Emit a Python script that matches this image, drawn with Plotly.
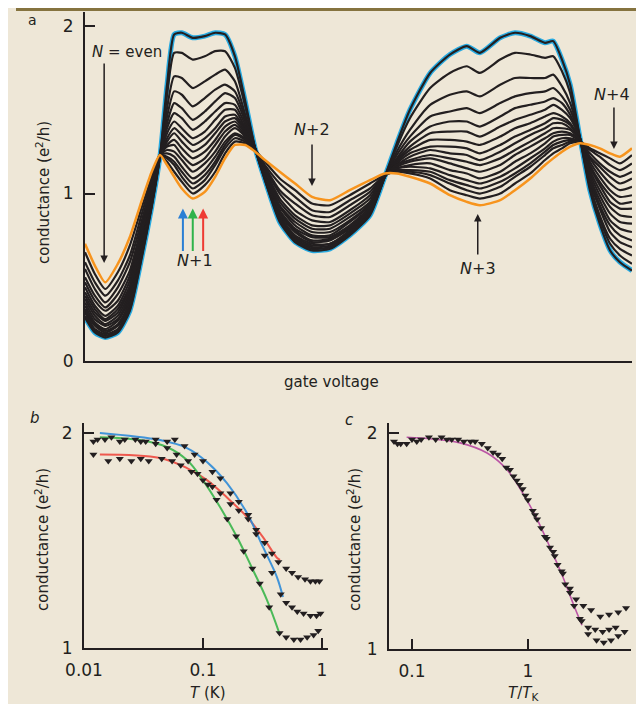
import plotly.graph_objects as go

W, H = 644, 704
OFF = 8  # the page places the figure 8 px right and down
BG = "#eee7d7"
INK = "#231f20"
BLUE = "#27aae1"
ORANGE = "#f7941d"
FONT = "DejaVu Sans"

# ---------------- panel a : conductance vs gate voltage ----------------
gate = [0.0, 1.8, 3.7, 6.0, 8.2, 10.4, 12.2, 13.7, 15.0, 16.3, 17.7, 19.7, 21.9, 23.8,
        25.6, 27.4, 29.3, 31.1, 32.9, 35.6, 38.4, 41.5, 44.8, 48.4, 52.1, 54.8, 57.0,
        59.4, 63.1, 66.7, 69.8, 72.2, 75.9, 78.6, 81.4, 84.1, 85.6, 87.2, 88.7, 90.5,
        92.3, 94.1, 96.0, 97.8, 100.0]

blue_lowT = [0.26, 0.17, 0.14, 0.17, 0.30, 0.62, 0.92, 1.22, 1.65, 1.95, 1.96, 1.93, 1.94,
             1.96, 1.95, 1.82, 1.55, 1.27, 1.08, 0.83, 0.71, 0.66, 0.67, 0.75, 0.87, 1.10,
             1.30, 1.50, 1.72, 1.83, 1.88, 1.84, 1.93, 1.96, 1.94, 1.90, 1.91, 1.80, 1.65,
             1.33, 1.02, 0.82, 0.66, 0.59, 0.54]

orange_highT = [0.70, 0.57, 0.47, 0.58, 0.74, 0.96, 1.13, 1.23, 1.17, 1.10, 1.03, 0.97, 1.01,
                1.10, 1.21, 1.29, 1.29, 1.25, 1.20, 1.13, 1.06, 0.98, 0.96, 1.02, 1.08, 1.12,
                1.12, 1.10, 1.06, 0.99, 0.95, 0.93, 0.96, 1.02, 1.09, 1.17, 1.21, 1.25, 1.28,
                1.30, 1.29, 1.27, 1.24, 1.22, 1.27]

# intermediate temperatures: one row per gate position, one column per curve
black_by_gate = [
    [0.27, 0.29, 0.30, 0.31, 0.33, 0.35, 0.37, 0.39, 0.41, 0.44, 0.47, 0.50, 0.55, 0.59, 0.65],
    [0.18, 0.19, 0.21, 0.22, 0.23, 0.25, 0.27, 0.29, 0.31, 0.33, 0.36, 0.39, 0.43, 0.47, 0.52],
    [0.15, 0.16, 0.17, 0.18, 0.19, 0.21, 0.22, 0.24, 0.25, 0.27, 0.30, 0.32, 0.35, 0.39, 0.43],
    [0.18, 0.19, 0.21, 0.22, 0.24, 0.25, 0.27, 0.29, 0.31, 0.33, 0.36, 0.40, 0.44, 0.48, 0.53],
    [0.31, 0.33, 0.34, 0.35, 0.37, 0.39, 0.41, 0.43, 0.45, 0.48, 0.51, 0.54, 0.59, 0.63, 0.69],
    [0.63, 0.64, 0.65, 0.66, 0.67, 0.69, 0.70, 0.72, 0.74, 0.76, 0.78, 0.81, 0.84, 0.88, 0.92],
    [0.93, 0.93, 0.94, 0.95, 0.95, 0.96, 0.97, 0.98, 0.99, 1.00, 1.02, 1.04, 1.06, 1.08, 1.10],
    [1.22, 1.22, 1.22, 1.22, 1.22, 1.22, 1.22, 1.22, 1.23, 1.23, 1.23, 1.23, 1.23, 1.23, 1.23],
    [1.59, 1.51, 1.46, 1.42, 1.39, 1.36, 1.33, 1.31, 1.29, 1.28, 1.26, 1.24, 1.22, 1.21, 1.19],
    [1.84, 1.70, 1.61, 1.54, 1.48, 1.43, 1.39, 1.36, 1.32, 1.29, 1.25, 1.22, 1.19, 1.17, 1.13],
    [1.84, 1.69, 1.59, 1.51, 1.45, 1.39, 1.35, 1.31, 1.27, 1.23, 1.20, 1.16, 1.13, 1.10, 1.07],
    [1.80, 1.63, 1.52, 1.44, 1.38, 1.33, 1.29, 1.25, 1.21, 1.17, 1.13, 1.09, 1.06, 1.03, 1.00],
    [1.82, 1.67, 1.57, 1.49, 1.43, 1.37, 1.33, 1.29, 1.25, 1.21, 1.18, 1.14, 1.11, 1.08, 1.05],
    [1.85, 1.71, 1.62, 1.55, 1.49, 1.44, 1.39, 1.36, 1.32, 1.29, 1.25, 1.22, 1.19, 1.17, 1.13],
    [1.85, 1.74, 1.65, 1.60, 1.54, 1.50, 1.46, 1.43, 1.40, 1.37, 1.34, 1.31, 1.29, 1.27, 1.24],
    [1.75, 1.67, 1.61, 1.57, 1.53, 1.50, 1.47, 1.45, 1.43, 1.41, 1.39, 1.36, 1.35, 1.33, 1.31],
    [1.52, 1.47, 1.45, 1.43, 1.41, 1.39, 1.38, 1.37, 1.36, 1.35, 1.34, 1.33, 1.32, 1.31, 1.30],
    [1.27, 1.27, 1.27, 1.27, 1.27, 1.27, 1.27, 1.26, 1.26, 1.26, 1.26, 1.26, 1.26, 1.26, 1.26],
    [1.08, 1.09, 1.09, 1.09, 1.10, 1.10, 1.11, 1.11, 1.12, 1.13, 1.14, 1.15, 1.16, 1.17, 1.19],
    [0.84, 0.85, 0.86, 0.87, 0.88, 0.89, 0.90, 0.92, 0.93, 0.95, 0.97, 1.00, 1.02, 1.06, 1.09],
    [0.72, 0.73, 0.74, 0.75, 0.77, 0.78, 0.79, 0.81, 0.83, 0.85, 0.87, 0.90, 0.94, 0.98, 1.02],
    [0.67, 0.68, 0.69, 0.70, 0.71, 0.72, 0.74, 0.75, 0.77, 0.79, 0.81, 0.84, 0.87, 0.90, 0.94],
    [0.68, 0.69, 0.70, 0.70, 0.72, 0.73, 0.74, 0.75, 0.77, 0.79, 0.81, 0.83, 0.86, 0.89, 0.93],
    [0.76, 0.77, 0.77, 0.78, 0.79, 0.80, 0.81, 0.83, 0.84, 0.86, 0.88, 0.90, 0.93, 0.96, 0.99],
    [0.88, 0.88, 0.89, 0.90, 0.90, 0.91, 0.92, 0.93, 0.94, 0.95, 0.97, 0.99, 1.01, 1.03, 1.06],
    [1.10, 1.10, 1.10, 1.10, 1.10, 1.10, 1.10, 1.11, 1.11, 1.11, 1.11, 1.11, 1.11, 1.11, 1.11],
    [1.28, 1.25, 1.23, 1.21, 1.20, 1.19, 1.18, 1.17, 1.17, 1.16, 1.15, 1.15, 1.14, 1.13, 1.13],
    [1.45, 1.38, 1.34, 1.31, 1.28, 1.26, 1.24, 1.22, 1.20, 1.19, 1.17, 1.16, 1.14, 1.13, 1.12],
    [1.63, 1.53, 1.46, 1.40, 1.36, 1.32, 1.28, 1.26, 1.23, 1.21, 1.18, 1.15, 1.13, 1.11, 1.09],
    [1.72, 1.59, 1.49, 1.43, 1.37, 1.32, 1.28, 1.24, 1.21, 1.18, 1.14, 1.11, 1.08, 1.06, 1.02],
    [1.76, 1.61, 1.51, 1.43, 1.37, 1.31, 1.27, 1.23, 1.19, 1.15, 1.12, 1.08, 1.05, 1.02, 0.99],
    [1.72, 1.58, 1.48, 1.40, 1.34, 1.29, 1.24, 1.20, 1.17, 1.13, 1.09, 1.06, 1.03, 1.00, 0.97],
    [1.80, 1.65, 1.54, 1.46, 1.40, 1.34, 1.29, 1.25, 1.21, 1.17, 1.13, 1.10, 1.07, 1.04, 1.00],
    [1.84, 1.69, 1.58, 1.51, 1.44, 1.39, 1.34, 1.30, 1.26, 1.23, 1.19, 1.15, 1.12, 1.10, 1.06],
    [1.83, 1.69, 1.60, 1.53, 1.47, 1.42, 1.38, 1.35, 1.31, 1.28, 1.24, 1.21, 1.18, 1.16, 1.12],
    [1.81, 1.69, 1.61, 1.55, 1.50, 1.46, 1.42, 1.39, 1.36, 1.33, 1.30, 1.27, 1.25, 1.23, 1.20],
    [1.82, 1.71, 1.63, 1.57, 1.53, 1.48, 1.45, 1.42, 1.39, 1.36, 1.34, 1.31, 1.29, 1.27, 1.24],
    [1.73, 1.64, 1.58, 1.54, 1.50, 1.46, 1.44, 1.42, 1.39, 1.37, 1.35, 1.33, 1.31, 1.29, 1.27],
    [1.60, 1.54, 1.50, 1.47, 1.45, 1.42, 1.41, 1.39, 1.38, 1.36, 1.35, 1.33, 1.32, 1.31, 1.30],
    [1.33, 1.33, 1.33, 1.33, 1.33, 1.32, 1.32, 1.32, 1.32, 1.32, 1.31, 1.31, 1.31, 1.31, 1.31],
    [1.04, 1.05, 1.07, 1.09, 1.10, 1.12, 1.14, 1.16, 1.17, 1.19, 1.21, 1.22, 1.24, 1.26, 1.27],
    [0.85, 0.87, 0.91, 0.93, 0.96, 0.99, 1.02, 1.05, 1.07, 1.10, 1.13, 1.16, 1.18, 1.22, 1.24],
    [0.70, 0.73, 0.77, 0.81, 0.84, 0.88, 0.92, 0.95, 0.99, 1.02, 1.06, 1.10, 1.13, 1.17, 1.21],
    [0.63, 0.67, 0.71, 0.75, 0.79, 0.83, 0.87, 0.91, 0.94, 0.98, 1.02, 1.06, 1.10, 1.14, 1.18],
    [0.58, 0.63, 0.68, 0.72, 0.77, 0.82, 0.86, 0.91, 0.95, 0.99, 1.04, 1.09, 1.13, 1.18, 1.23],
]
black_curves = [list(col) for col in zip(*black_by_gate)]

# ---------------- panel b : conductance vs T ----------------
red_T = [0.012, 0.016, 0.02, 0.025, 0.03, 0.035, 0.045, 0.055, 0.065, 0.08, 0.1, 0.12, 0.14,
         0.17, 0.2, 0.24, 0.28, 0.33, 0.38, 0.43, 0.5, 0.56, 0.63, 0.72, 0.8, 0.88, 0.95]
red_G = [1.90, 1.87, 1.88, 1.87, 1.88, 1.87, 1.88, 1.87, 1.85, 1.82, 1.78, 1.75, 1.72,
         1.67, 1.64, 1.60, 1.55, 1.49, 1.44, 1.40, 1.37, 1.35, 1.33, 1.32, 1.31, 1.31, 1.31]
blu_T = [0.013, 0.017, 0.022, 0.027, 0.033, 0.04, 0.05, 0.058, 0.07, 0.085, 0.1, 0.12, 0.14,
         0.17, 0.2, 0.24, 0.28, 0.33, 0.38, 0.45, 0.5, 0.56, 0.62, 0.7, 0.8, 0.9, 0.97]
blu_G = [1.97, 1.98, 1.97, 1.97, 1.96, 1.97, 1.96, 1.97, 1.94, 1.90, 1.87, 1.82, 1.79,
         1.72, 1.68, 1.62, 1.53, 1.43, 1.35, 1.25, 1.21, 1.19, 1.17, 1.16, 1.15, 1.15, 1.16]
grn_T = [0.012, 0.015, 0.02, 0.03, 0.04, 0.05, 0.06, 0.075, 0.09, 0.11, 0.13, 0.16, 0.19,
         0.22, 0.26, 0.3, 0.36, 0.44, 0.5, 0.58, 0.66, 0.75, 0.85, 0.93]
grn_G = [1.96, 1.97, 1.96, 1.96, 1.95, 1.93, 1.90, 1.87, 1.81, 1.76, 1.69, 1.60, 1.52,
         1.45, 1.37, 1.30, 1.19, 1.07, 1.05, 1.04, 1.04, 1.05, 1.06, 1.08]

fit_red_T = [0.0136, 0.0435, 0.0734, 0.108, 0.159, 0.234, 0.319, 0.418, 0.444]
fit_red_G = [1.90, 1.884, 1.837, 1.781, 1.70, 1.61, 1.516, 1.42, 1.41]
fit_blu_T = [0.0136, 0.0435, 0.0734, 0.108, 0.159, 0.234, 0.319, 0.418, 0.47]
fit_blu_G = [2.0, 1.967, 1.93, 1.865, 1.767, 1.628, 1.47, 1.33, 1.237]
fit_grn_T = [0.0136, 0.0294, 0.0496, 0.0734, 0.1, 0.139, 0.193, 0.263, 0.345, 0.444]
fit_grn_G = [1.98, 1.967, 1.935, 1.874, 1.78, 1.656, 1.516, 1.363, 1.223, 1.06]

# ---------------- panel c : conductance vs T/TK (scaled) ----------------
c1_x = [0.07, 0.1, 0.14, 0.2, 0.28, 0.4, 0.55, 0.7, 0.85, 1.0, 1.2, 1.45, 1.7, 2.0, 2.3,
        2.6, 3.0, 3.5, 4.2, 5.0, 6.0, 7.0]
c1_G = [1.96, 1.97, 1.98, 1.97, 1.96, 1.95, 1.90, 1.83, 1.76, 1.69, 1.60, 1.51, 1.43, 1.35,
        1.28, 1.23, 1.20, 1.18, 1.15, 1.16, 1.17, 1.19]
c2_x = [0.08, 0.11, 0.16, 0.22, 0.32, 0.45, 0.6, 0.75, 0.9, 1.1, 1.3, 1.55, 1.8, 2.1, 2.5,
        2.9, 3.3, 3.8, 4.4, 5.0, 5.7]
c2_G = [1.95, 1.96, 1.97, 1.97, 1.96, 1.93, 1.88, 1.80, 1.74, 1.64, 1.56, 1.47, 1.39, 1.30,
        1.20, 1.13, 1.10, 1.09, 1.08, 1.09, 1.10]
c3_x = [0.075, 0.09, 0.12, 0.18, 0.25, 0.35, 0.5, 0.65, 0.8, 0.95, 1.15, 1.4, 1.65, 1.95,
        2.3, 2.8, 3.3, 3.9, 4.5, 5.2, 6.0, 6.8]
c3_G = [1.95, 1.95, 1.97, 1.98, 1.97, 1.96, 1.91, 1.84, 1.78, 1.71, 1.62, 1.52, 1.45, 1.36,
        1.26, 1.14, 1.07, 1.04, 1.03, 1.04, 1.06, 1.08]
fit_c_x = [0.09, 0.15, 0.26, 0.444, 0.659, 0.905, 1.2, 1.55, 2.0, 2.44, 2.92]
fit_c_G = [1.98, 1.972, 1.954, 1.907, 1.83, 1.72, 1.60, 1.47, 1.333, 1.213, 1.11]


def px(x):
    """screen pixel (as seen in the page) -> paper fraction"""
    return (x - OFF) / W


def py(y):
    return 1 - (y - OFF) / H


fig = go.Figure()

# panel a curves: blue underlay, black family, orange on top
fig.add_trace(go.Scatter(x=gate, y=blue_lowT, mode="lines", xaxis="x", yaxis="y",
                         line=dict(color=BLUE, width=5, shape="spline", smoothing=0.6)))
fig.add_trace(go.Scatter(x=gate, y=blue_lowT, mode="lines", xaxis="x", yaxis="y",
                         line=dict(color=INK, width=2.2, shape="spline", smoothing=0.6)))
for curve in black_curves:
    fig.add_trace(go.Scatter(x=gate, y=curve, mode="lines", xaxis="x", yaxis="y",
                             line=dict(color=INK, width=2.2, shape="spline", smoothing=0.6)))
fig.add_trace(go.Scatter(x=gate, y=orange_highT, mode="lines", xaxis="x", yaxis="y",
                         line=dict(color=ORANGE, width=2.5, shape="spline", smoothing=0.6)))

# panel b
for tx, gy, col in [(fit_red_T, fit_red_G, "rgba(237,64,54,0.85)"),
                    (fit_blu_T, fit_blu_G, "rgba(46,139,216,0.9)"),
                    (fit_grn_T, fit_grn_G, "rgba(57,181,74,0.9)")]:
    fig.add_trace(go.Scatter(x=tx, y=gy, mode="lines", xaxis="x2", yaxis="y2",
                             line=dict(color=col, width=2, shape="spline")))
for tx, gy in [(red_T, red_G), (blu_T, blu_G), (grn_T, grn_G)]:
    fig.add_trace(go.Scatter(x=tx, y=gy, mode="markers", xaxis="x2", yaxis="y2",
                             marker=dict(symbol="triangle-down", size=7, color=INK)))

# panel c
fig.add_trace(go.Scatter(x=fit_c_x, y=fit_c_G, mode="lines", xaxis="x3", yaxis="y3",
                         line=dict(color="#bb55a5", width=1.6, shape="spline")))
for tx, gy in [(c1_x, c1_G), (c2_x, c2_G), (c3_x, c3_G)]:
    fig.add_trace(go.Scatter(x=tx, y=gy, mode="markers", xaxis="x3", yaxis="y3",
                             marker=dict(symbol="triangle-down", size=7, color=INK)))

axis_line = dict(showline=True, linecolor=INK, linewidth=2, showgrid=False, zeroline=False,
                 tickcolor=INK, tickwidth=2, automargin=False)
tick_font = dict(family=FONT, size=17, color=INK)

fig.update_layout(
    width=W, height=H, margin=dict(l=0, r=0, t=0, b=0, pad=0, autoexpand=False),
    paper_bgcolor=BG, plot_bgcolor=BG, showlegend=False,
    font=dict(family=FONT, color=INK),
    xaxis=dict(domain=[px(85), px(632)], range=[0, 100], showticklabels=False, ticks="",
               anchor="y", **axis_line),
    yaxis=dict(domain=[py(361), py(12)], range=[0, 2.084], tickvals=[0, 1, 2],
               ticktext=["0", "1", "2"], ticks="inside", ticklen=10, ticklabelstandoff=6,
               tickfont=tick_font, anchor="x", **axis_line),
    xaxis2=dict(domain=[px(84), px(328)], type="log", range=[-2, 0.0504],
                tickvals=[0.01, 0.1, 1], ticktext=["0.01", "0.1", "1"], ticks="inside",
                ticklen=10, ticklabelstandoff=6, tickfont=tick_font, anchor="y2", **axis_line),
    yaxis2=dict(domain=[py(648), py(423)], range=[1, 2.0465], tickvals=[1, 2],
                ticks="inside", ticklen=10, ticklabelstandoff=6, tickfont=tick_font,
                anchor="x2", **axis_line),
    xaxis3=dict(domain=[px(389), px(631)], type="log", range=[-1.198, 0.888],
                tickvals=[0.1, 1], ticktext=["0.1", "1"], ticks="inside",
                ticklen=10, ticklabelstandoff=6, tickfont=tick_font, anchor="y3", **axis_line),
    yaxis3=dict(domain=[py(649), py(423)], range=[1, 2.046], tickvals=[1, 2],
                ticks="inside", ticklen=10, ticklabelstandoff=6, tickfont=tick_font,
                anchor="x3", **axis_line),
)

# top brown rule
fig.add_shape(type="rect", xref="paper", yref="paper", x0=px(16), x1=1, y0=py(11), y1=1,
              fillcolor="#85733f", line=dict(width=0), layer="above")


def text(x, y, s, size=15, angle=0, ref="paper"):
    if ref == "paper":
        fig.add_annotation(x=px(x), y=py(y), xref="paper", yref="paper", text=s,
                           showarrow=False, textangle=angle, xanchor="center",
                           yanchor="middle", font=dict(family=FONT, size=size, color=INK))
    else:
        fig.add_annotation(x=x, y=y, xref="x", yref="y", text=s, showarrow=False,
                           xanchor="center", yanchor="middle",
                           font=dict(family=FONT, size=size, color=INK))


def arrow(xg, yg, ay, color=INK, width=1.5):
    fig.add_annotation(x=xg, y=yg, xref="x", yref="y", ax=0, ay=ay, axref="pixel",
                       ayref="pixel", text="", showarrow=True, arrowhead=2, arrowsize=1,
                       arrowwidth=width, arrowcolor=color)


# panel letters
text(33, 20, "a", size=14)
text(35, 418, "<i>b</i>", size=15)
text(350, 420, "<i>c</i>", size=15)

# axis titles
text(43, 193, "conductance (e<sup>2</sup>/h)", size=15, angle=-90)
text(332, 382, "gate voltage", size=15)
text(42, 540, "conductance (e<sup>2</sup>/h)", size=15, angle=-90)
text(354, 540, "conductance (e<sup>2</sup>/h)", size=15, angle=-90)
text(207, 693, "<i>T</i> (K)", size=15)
text(523, 693, "<i>T</i>/<i>T</i><sub>K</sub>", size=15)

# panel a labels and arrows (gate-voltage / conductance coordinates)
text(7.6, 1.845, "<i>N</i> = even", size=15, ref="data")
arrow(3.5, 0.585, -201)
arrow(17.9, 0.91, 44, color="#2a7fd4", width=2)
arrow(19.7, 0.91, 44, color="#2fb34a", width=2)
arrow(21.6, 0.91, 44, color="#ee3b33", width=2)
text(20.1, 0.60, "<i>N</i>+1", size=16, ref="data")
text(41.5, 1.38, "<i>N</i>+2", size=16, ref="data")
arrow(41.5, 1.045, -43)
text(71.8, 0.55, "<i>N</i>+3", size=16, ref="data")
arrow(71.8, 0.878, 42)
text(96.4, 1.59, "<i>N</i>+4", size=16, ref="data")
arrow(96.7, 1.266, -43)

fig.write_html("out.html")
